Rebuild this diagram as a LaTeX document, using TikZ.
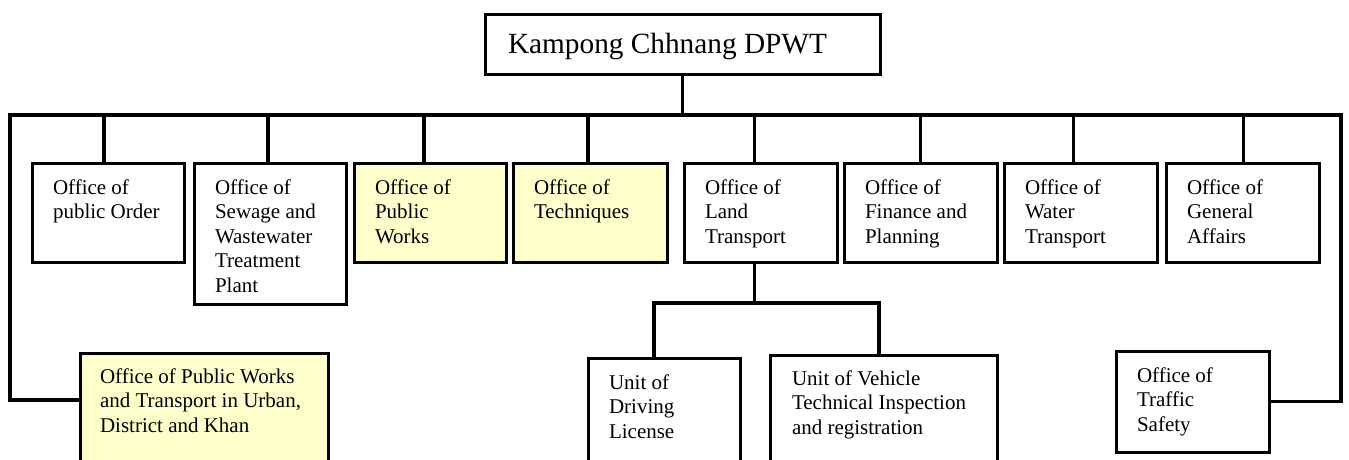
\documentclass[tikz,border=0pt]{standalone}
\usepackage{fontspec}
\setmainfont{Liberation Serif}
\definecolor{paleyellow}{RGB}{255,255,204}
\newcommand{\orgbox}[5]{\parbox[c][#2][t]{#1}{\raggedright\leftskip=#3\relax\rule{0pt}{#4}#5\par}}
\tikzset{
  orgnode/.style={draw=black, line width=3pt, anchor=north west, inner sep=0pt, outer sep=0pt, fill=white,
    font=\fontsize{21}{24.5}\selectfont},
  hilite/.style={fill=paleyellow},
  titlenode/.style={orgnode, font=\fontsize{29.3}{34}\selectfont},
  link/.style={line width=3.2pt}
}
\begin{document}
\begin{tikzpicture}[x=1pt,y=-1pt,line width=3pt]
\useasboundingbox (0,0) rectangle (1349,459);
% title
\node[titlenode] (title) at (485,14) {\orgbox{395pt}{60pt}{23pt}{39pt}{Kampong Chhnang DPWT}};
% first row
\node[orgnode] (b1) at (32,163) {\orgbox{152pt}{99pt}{21pt}{31pt}{Office of\\public Order}};
\node[orgnode] (b2) at (194,163) {\orgbox{152pt}{141pt}{21pt}{31pt}{Office of\\Sewage and\\Wastewater\\Treatment\\Plant}};
\node[orgnode,hilite] (b3) at (354,163) {\orgbox{152pt}{99pt}{21pt}{31pt}{Office of\\Public\\Works}};
\node[orgnode,hilite] (b4) at (513,163) {\orgbox{154pt}{99pt}{21pt}{31pt}{Office of\\Techniques}};
\node[orgnode] (b5) at (684,163) {\orgbox{153pt}{99pt}{21pt}{31pt}{Office of\\Land\\Transport}};
\node[orgnode] (b6) at (844,163) {\orgbox{153pt}{99pt}{21pt}{31pt}{Office of\\Finance and\\Planning}};
\node[orgnode] (b7) at (1004,163) {\orgbox{153pt}{99pt}{21pt}{31pt}{Office of\\Water\\Transport}};
\node[orgnode] (b8) at (1166,163) {\orgbox{153pt}{99pt}{21pt}{31pt}{Office of\\General\\Affairs}};
% bottom row
\node[orgnode,hilite] (urban) at (80,353) {\orgbox{248pt}{130pt}{20pt}{30pt}{Office of Public Works\\and Transport in Urban,\\District and Khan}};
\node[orgnode] (driving) at (588,358) {\orgbox{152pt}{120pt}{21pt}{31pt}{Unit of\\Driving\\License}};
\node[orgnode] (vehicle) at (770,355) {\orgbox{227pt}{120pt}{22pt}{30pt}{Unit of Vehicle\\Technical Inspection\\and registration}};
\node[orgnode] (traffic) at (1116,351) {\orgbox{153pt}{101pt}{21pt}{31pt}{Office of\\Traffic\\Safety}};
% bus coordinates
\coordinate (busL) at (10,115);
\coordinate (busR) at (1341,115);
\coordinate (subL) at (654,303);
\coordinate (subR) at (879,303);
% connectors
\draw[link] (title.south) -- (title.south |- busL);
\draw[link] ([yshift=-47pt]urban.north west) -| (busL) -- (busR) |- (traffic.east);
\draw[link] ([xshift=-4pt]b1.north) -- ([xshift=-4pt]b1.north |- busL);
\draw[link] ([xshift=-2pt]b2.north) -- ([xshift=-2pt]b2.north |- busL);
\draw[link] ([xshift=-6pt]b3.north) -- ([xshift=-6pt]b3.north |- busL);
\draw[link] ([xshift=-2pt]b4.north) -- ([xshift=-2pt]b4.north |- busL);
\draw[link] ([xshift=-6pt]b5.north) -- ([xshift=-6pt]b5.north |- busL);
\draw[link] (b6.north) -- (b6.north |- busL);
\draw[link] ([xshift=-7pt]b7.north) -- ([xshift=-7pt]b7.north |- busL);
\draw[link] ([xshift=1pt]b8.north) -- ([xshift=1pt]b8.north |- busL);
\draw[link] ([xshift=-6pt]b5.south) -- ([xshift=-6pt]b5.south |- subL);
\draw[link] (driving.north -| subL) -- (subL) -- (subR) -- (vehicle.north -| subR);
\end{tikzpicture}
\end{document}
